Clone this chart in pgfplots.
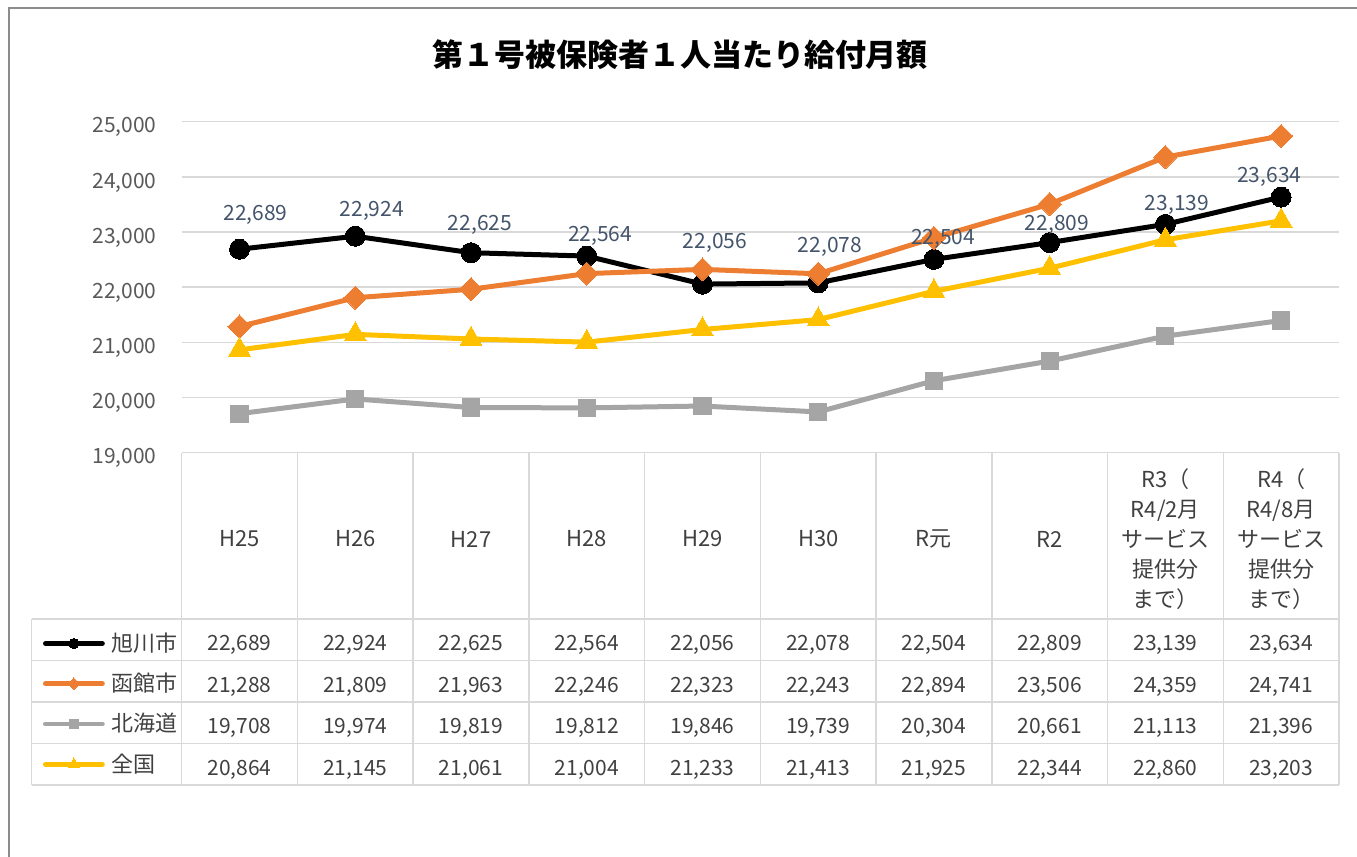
\documentclass[border=0pt]{standalone}
\usepackage{fontspec}
\setmainfont{Noto Sans CJK JP}
\usepackage{pgfplots}
\usepackage{pgfplotstable}
\pgfplotsset{compat=1.18}
\definecolor{cAsa}{HTML}{000000}
\definecolor{cHak}{HTML}{ED7D31}
\definecolor{cHok}{HTML}{A5A5A5}
\definecolor{cZen}{HTML}{FFC000}
\definecolor{gridc}{HTML}{D9D9D9}
\definecolor{tickc}{HTML}{595959}
\definecolor{tabc}{HTML}{404040}
\definecolor{labc}{HTML}{44546A}
\definecolor{framec}{HTML}{8C8C8C}

\pgfplotstableread{
x asa hak hok zen labx laby
0 22689 21288 19708 20864 0.137 23218
1 22924 21809 19974 21145 1.143 23282
2 22625 21963 19819 21061 2.078 23024
3 22564 22246 19812 21004 3.115 22837
4 22056 22323 19846 21233 4.108 22705
5 22078 22243 19739 21413 5.102 22633
6 22504 22894 20304 21925 6.079 22778
7 22809 23506 20661 22344 7.063 23024
8 23139 24359 21113 22860 8.100 23399
9 23634 24741 21396 23203 8.898 23889
}\data

\begin{document}
\begin{tikzpicture}
\path[use as bounding box] (0,0) rectangle (678.5pt,428.5pt);
\begin{axis}[
  at={(90.85pt,202.15pt)}, anchor=south west,
  scale only axis, width=578.65pt, height=165.5pt,
  xmin=-0.5, xmax=9.5, ymin=19000, ymax=25000,
  ytick={19000,20000,...,25000}, xtick=\empty,
  axis line style={draw=none}, major tick length=0pt,
  ymajorgrids, grid style={gridc, line width=0.75pt},
  scaled y ticks=false,
  yticklabel style={font=\fontsize{10.5}{12}\selectfont, text=tickc, anchor=base east, inner sep=0pt, xshift=-12.35pt, yshift=-5.65pt},
  /pgf/number format/.cd, fixed, precision=0, 1000 sep={,}, assume math mode=true, /pgfplots/.cd,
  clip=false,
  legend style={at={(-0.11985,-0.5157)}, anchor=north west, draw=none, fill=none,
    inner sep=0pt, outer sep=0pt, row sep=0pt, column sep=3.35pt,
    font=\fontsize{11}{13}\selectfont, text=tabc,
    nodes={inner sep=0pt, minimum height=20.12pt}},
  legend cell align=left,
  legend image code/.code={\draw[mark repeat=2, mark phase=2, #1, line width=2.4pt, line cap=round, every mark/.append style={scale=0.5}] plot coordinates {(0pt,0pt)(14.25pt,0pt)(28.5pt,0pt)};},
]
\addplot[color=cAsa, line width=2.5pt, line join=round, mark=*, mark size=5pt, mark options={solid, line width=0pt}] table[x=x,y=asa]{\data};
\addlegendentry{旭川市}
\addplot[color=cHak, line width=2.5pt, line join=round, mark=square*, mark size=4.1pt, mark options={solid, rotate=45, line width=0pt}] table[x=x,y=hak]{\data};
\addlegendentry{函館市}
\addplot[color=cHok, line width=2.5pt, line join=round, mark=square*, mark size=4.3pt, mark options={solid, line width=0pt}] table[x=x,y=hok]{\data};
\addlegendentry{北海道}
\addplot[color=cZen, line width=2.5pt, line join=round, mark=triangle*, mark size=6.3pt, mark options={solid, line width=0pt}] table[x=x,y=zen]{\data};
\addlegendentry{全国}
\addplot[draw=none, mark=none, forget plot, nodes near coords, point meta=explicit,
  every node near coord/.append style={anchor=base, inner sep=0pt, font=\fontsize{10.5}{12}\selectfont, text=labc}]
  table[x=labx, y=laby, meta=asa]{\data};
\end{axis}
\begin{scope}[x=0.5pt, y=-0.5pt, shift={(0pt,428.5pt)}]
  \draw[framec, line width=0.75pt] (9,857) -- (9,8) -- (1357,8);
  \begin{scope}[gridc, line width=0.75pt]
    \foreach \k in {0,...,10} \draw ({181.7+115.73*\k},452.7) -- ({181.7+115.73*\k},785);
    \draw (31.7,619) -- (31.7,785);
    \foreach \yy in {619,660.5,702,743.5,785} \draw (31.7,\yy) -- (1339,\yy);
  \end{scope}
  \foreach \lab [count=\i from 0] in {H25,H26,H27,H28,H29,H30,R元,R2,{R3（\\R4/2月\\サービス\\提供分\\まで）},{R4（\\R4/8月\\サービス\\提供分\\まで）}}
    \node[align=center, font=\fontsize{11}{15}\selectfont, text=tabc, inner sep=0pt] at ({181.7+115.73*(\i+0.5)},539) {\lab};
  \foreach \col [count=\r from 0] in {asa,hak,hok,zen} {
    \foreach \i in {0,...,9} {
      \pgfplotstablegetelem{\i}{\col}\of\data
      \node[anchor=base, inner sep=0pt, font=\fontsize{10.5}{12}\selectfont, text=tabc] at ({181.7+115.73*(\i+0.5)},{651+41.5*\r}) {\pgfmathprintnumber[fixed,precision=0,1000 sep={,},assume math mode=true]{\pgfplotsretval}};
    }
  }
  \node[font=\bfseries\fontsize{15.5}{18}\selectfont, inner sep=0pt] at (680,55) {第１号被保険者１人当たり給付月額};
\end{scope}
\end{tikzpicture}
\end{document}
